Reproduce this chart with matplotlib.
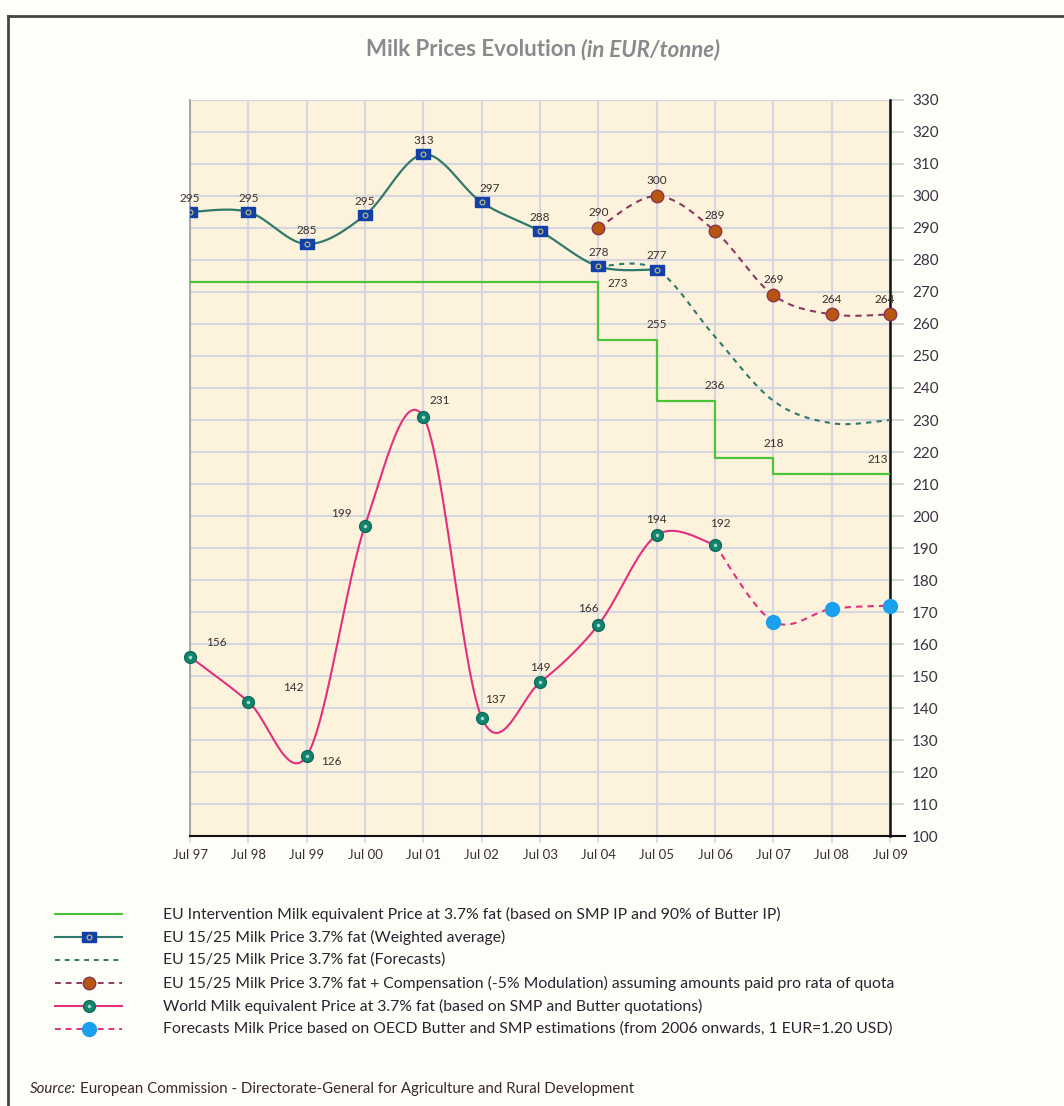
import numpy as np
import matplotlib.pyplot as plt
from matplotlib.lines import Line2D

plt.rcParams['font.family'] = ['Lato', 'DejaVu Sans']

# Datos
years = ['Jul 97', 'Jul 98', 'Jul 99', 'Jul 00', 'Jul 01', 'Jul 02', 'Jul 03',
         'Jul 04', 'Jul 05', 'Jul 06', 'Jul 07', 'Jul 08', 'Jul 09']

# Precio de intervencion (escalones)
interv_x = [0, 7, 7, 8, 8, 9, 9, 10, 10, 12]
interv_y = [273, 273, 255, 255, 236, 236, 218, 218, 213, 213]
interv_labels = [(7, 273, '273'), (8, 255, '255'), (9, 236, '236'),
                 (10, 218, '218'), (12, 213, '213')]

# Precio EU 15/25 (media ponderada)
eu_x = [0, 1, 2, 3, 4, 5, 6, 7, 8]
eu_y = [295, 295, 285, 294, 313, 298, 289, 278, 277]
eu_lab = ['295', '295', '285', '295', '313', '297', '288', '278', '277']

# Previsiones EU 15/25
eu_fc_x = [7, 8, 9, 10, 11, 12]
eu_fc_y = [278, 277, 256, 236, 229, 230]

# EU + compensacion
comp_x = [7, 8, 9, 10, 11, 12]
comp_y = [290, 300, 289, 269, 263, 263]
comp_lab = ['290', '300', '289', '269', '264', '264']

# Precio mundial
world_x = [0, 1, 2, 3, 4, 5, 6, 7, 8, 9]
world_y = [156, 142, 125, 197, 231, 137, 148, 166, 194, 191]
world_lab = ['156', '142', '126', '199', '231', '137', '149', '166', '194', '192']
world_off = [(19, 10), (32, 10), (18, -4), (-17, 9), (12, 12), (10, 13),
             (0, 11), (-7, 12), (0, 11), (4, 15)]

# Previsiones OCDE
oecd_x = [9, 10, 11, 12]
oecd_y = [191, 167, 171, 172]

legend_labels = [
    'EU Intervention Milk equivalent Price at 3.7% fat (based on SMP IP and 90% of Butter IP)',
    'EU 15/25 Milk Price 3.7% fat (Weighted average)',
    'EU 15/25 Milk Price 3.7% fat (Forecasts)',
    'EU 15/25 Milk Price 3.7% fat + Compensation (-5% Modulation) assuming amounts paid pro rata of quota',
    'World Milk equivalent Price at 3.7% fat (based on SMP and Butter quotations)',
    'Forecasts Milk Price based on OECD Butter and SMP estimations (from 2006 onwards, 1 EUR=1.20 USD)',
]

# Colores
c_green = '#4cc43a'
c_teal = '#2f7a6c'
c_brown_line = '#8a3a62'
c_pink = '#e2307e'
c_blue_sq = '#1040a8'
c_lab = '#3a2e2e'
bg_fig = '#fefef8'
bg_ax = '#fdf2dc'
grid_c = '#d6d6de'


# Suavizado tipo Excel (Catmull-Rom)
def smooth(x, y, n=30):
    x = np.asarray(x, float)
    y = np.asarray(y, float)
    px = np.concatenate([[x[0]], x, [x[-1]]])
    py = np.concatenate([[y[0]], y, [y[-1]]])
    xs, ys = [], []
    t = np.linspace(0, 1, n)
    for i in range(1, len(px) - 2):
        p0x, p1x, p2x, p3x = px[i - 1], px[i], px[i + 1], px[i + 2]
        p0y, p1y, p2y, p3y = py[i - 1], py[i], py[i + 1], py[i + 2]
        c1x, c1y = p1x + (p2x - p0x) / 6, p1y + (p2y - p0y) / 6
        c2x, c2y = p2x - (p3x - p1x) / 6, p2y - (p3y - p1y) / 6
        bx = (1 - t) ** 3 * p1x + 3 * (1 - t) ** 2 * t * c1x + 3 * (1 - t) * t ** 2 * c2x + t ** 3 * p2x
        by = (1 - t) ** 3 * p1y + 3 * (1 - t) ** 2 * t * c1y + 3 * (1 - t) * t ** 2 * c2y + t ** 3 * p2y
        xs.extend(bx)
        ys.extend(by)
    return np.array(xs), np.array(ys)


fig = plt.figure(figsize=(10.64, 11.06), dpi=100, facecolor=bg_fig)
ax = fig.add_axes([0.1786, 0.2441, 0.6579, 0.6655], facecolor=bg_ax)

# Marcador rectangular azul
rect = [(-1, -0.62), (1, -0.62), (1, 0.62), (-1, 0.62), (-1, -0.62)]

# Intervencion
ax.plot(interv_x, interv_y, color=c_green, lw=1.6, zorder=3)
for (xx, yy, s), off in zip(interv_labels, [(14, -1), (0, 7), (0, 7), (0, 7), (-9, 7)]):
    ax.annotate(s, (xx, yy), xytext=off, textcoords='offset points', ha='center',
                va='bottom' if off[1] > 0 else 'center', fontsize=8.5, color=c_lab, zorder=6)

# Previsiones EU
sx, sy = smooth(eu_fc_x, eu_fc_y)
ax.plot(sx, sy, color=c_teal, lw=1.5, ls=(0, (2.5, 2.5)), zorder=3)

# EU media ponderada
sx, sy = smooth(eu_x, eu_y)
ax.plot(sx, sy, color=c_teal, lw=1.6, zorder=4)
ax.plot(eu_x, eu_y, ls='none', marker=rect, ms=10.5, mfc=c_blue_sq, mec=c_blue_sq, zorder=5)
ax.plot(eu_x, eu_y, ls='none', marker='o', ms=3.5, mfc='none', mec='#c9c37a', mew=0.8, zorder=6)
for i, (xx, yy) in enumerate(zip(eu_x, eu_y)):
    dx = 6 if i == 5 else 0
    ax.annotate(eu_lab[i], (xx, yy), xytext=(dx, 6), textcoords='offset points',
                ha='center', va='bottom', fontsize=8.5, color=c_lab, zorder=6)

# EU + compensacion
sx, sy = smooth(comp_x, comp_y)
ax.plot(sx, sy, color=c_brown_line, lw=1.5, ls=(0, (3, 2.5)), zorder=4)
ax.plot(comp_x, comp_y, ls='none', marker='o', ms=9, mfc='#b8560e', mec='#8a3450', mew=1,
        zorder=5, clip_on=False)
for i, (xx, yy) in enumerate(zip(comp_x, comp_y)):
    dx = -4 if i == 5 else 0
    ax.annotate(comp_lab[i], (xx, yy), xytext=(dx, 7), textcoords='offset points',
                ha='center', va='bottom', fontsize=8.5, color=c_lab, zorder=6)

# Precio mundial
sx, sy = smooth(world_x, world_y)
ax.plot(sx, sy, color=c_pink, lw=1.5, zorder=4)
# Previsiones OCDE
sx, sy = smooth(oecd_x, oecd_y)
ax.plot(sx, sy, color=c_pink, lw=1.5, ls=(0, (3, 2.5)), zorder=4)
ax.plot(oecd_x[1:], oecd_y[1:], ls='none', marker='o', ms=10, mfc='#1aa0ec', mec='#1aa0ec',
        zorder=5, clip_on=False)
ax.plot(world_x, world_y, ls='none', marker='o', ms=8.5, mfc='#12856e', mec='#0c6a58',
        zorder=5, clip_on=False)
ax.plot(world_x, world_y, ls='none', marker='o', ms=2.5, mfc='#a8d8c8', mec='none', zorder=6,
        clip_on=False)
for i, (xx, yy) in enumerate(zip(world_x, world_y)):
    ax.annotate(world_lab[i], (xx, yy), xytext=world_off[i], textcoords='offset points',
                ha='center', va='center', fontsize=8.5, color=c_lab, zorder=6)

# Ejes
ax.set_xlim(0, 12)
ax.set_ylim(100, 330)
ax.set_xticks(range(len(years)))
ax.set_xticklabels(years, fontsize=9.5, color='#3a3030')
ax.set_yticks(np.arange(100, 331, 10))
ax.yaxis.tick_right()
ax.tick_params(axis='y', direction='out', length=10, width=1.5, color=grid_c,
               labelsize=11, labelcolor='#3a3040', pad=6)
ax.tick_params(axis='x', direction='out', length=5, width=1.2, color=grid_c, pad=4)
ax.grid(True, color=grid_c, lw=1.5, zorder=0)
ax.set_axisbelow(True)
ax.spines['top'].set_visible(False)
ax.spines['left'].set_color('#9a9a9a')
ax.spines['left'].set_linewidth(1.2)
ax.spines['right'].set_color('#111111')
ax.spines['right'].set_linewidth(1.8)
ax.spines['bottom'].set_color('#111111')
ax.spines['bottom'].set_linewidth(1.5)
ax.spines['bottom'].set_bounds(0, 12.25)

W, H = 1064, 1106

# Titulo centrado sobre x=543
t1 = fig.text(0, 1 - 50 / H, 'Milk Prices Evolution ', ha='left', va='center', fontsize=16,
              fontweight='bold', color='#8a8a8e')
t2 = fig.text(0, 1 - 50 / H, '(in EUR/tonne)', ha='left', va='center', fontsize=16,
              fontweight='bold', style='italic', color='#8a8a8e')
fig.canvas.draw()
r = fig.canvas.get_renderer()
w1 = t1.get_window_extent(r).width
w2 = t2.get_window_extent(r).width
x0 = 543 - (w1 + w2) / 2
t1.set_x(x0 / W)
t2.set_x((x0 + w1) / W)

# Leyenda a mano
leg_styles = [
    dict(color=c_green, lw=1.5),
    dict(color=c_teal, lw=1.5, marker=rect, ms=10.5, mfc=c_blue_sq, mec=c_blue_sq),
    dict(color=c_teal, lw=1.4, ls=(0, (2.5, 2.5))),
    dict(color=c_brown_line, lw=1.4, ls=(0, (3, 2.5)), marker='o', ms=9, mfc='#b8560e', mec='#8a3450'),
    dict(color=c_pink, lw=1.5, marker='o', ms=8.5, mfc='#12856e', mec='#0c6a58'),
    dict(color=c_pink, lw=1.4, ls=(0, (3, 2.5)), marker='o', ms=10, mfc='#1aa0ec', mec='#1aa0ec'),
]
for i, (lab, st) in enumerate(zip(legend_labels, leg_styles)):
    yy = 1 - (914 + 23 * i) / H
    ln = Line2D([55 / W, 88.5 / W, 122 / W], [yy, yy, yy], transform=fig.transFigure,
                markevery=[1], **st)
    fig.add_artist(ln)
    if i == 1:
        fig.add_artist(Line2D([88.5 / W], [yy], transform=fig.transFigure, ls='none', marker='o',
                              ms=3.5, mfc='none', mec='#c9c37a', mew=0.8))
    if i == 4:
        fig.add_artist(Line2D([88.5 / W], [yy], transform=fig.transFigure, ls='none', marker='o',
                              ms=2.5, mfc='#a8d8c8', mec='none'))
    fig.text(163 / W, yy, lab, ha='left', va='center', fontsize=11.3, color='#2a2230')

# Fuente
fig.text(30 / W, 1 - 1089 / H, 'Source:', ha='left', va='center', fontsize=10.8,
         style='italic', color='#3a2a2a')
fig.text(80 / W, 1 - 1089 / H, 'European Commission - Directorate-General for Agriculture and Rural Development',
         ha='left', va='center', fontsize=10.8, color='#3a2a2a')

# Marco
fig.add_artist(Line2D([8 / W, 8 / W], [0, 1 - 16 / H], transform=fig.transFigure, color='#444444', lw=2))
fig.add_artist(Line2D([8 / W, 1], [1 - 16 / H, 1 - 16 / H], transform=fig.transFigure, color='#444444', lw=2))

fig.savefig('out.png', dpi=100, facecolor=bg_fig)
